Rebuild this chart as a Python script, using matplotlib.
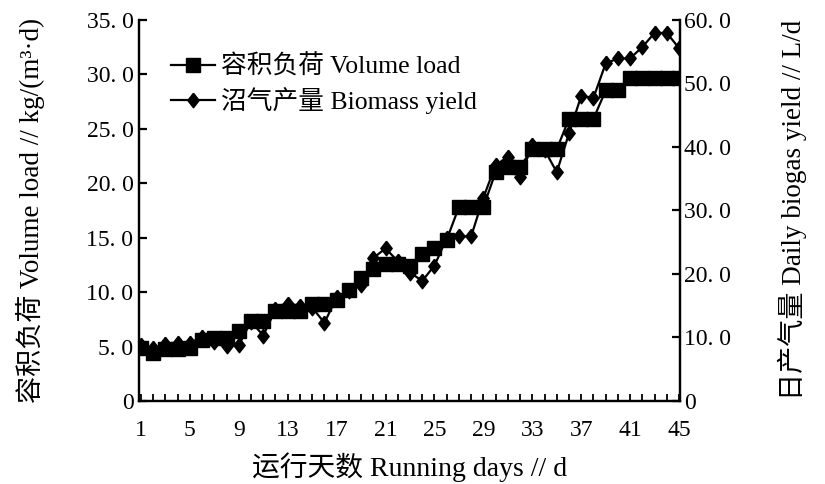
import matplotlib.pyplot as plt
from matplotlib.ticker import MultipleLocator, FixedLocator

# Данные
days = list(range(1, 46))
volume_load = [4.9, 4.4, 4.75, 4.75, 4.9, 5.6, 5.8, 5.8, 6.4, 7.3,
               7.3, 8.3, 8.3, 8.3, 8.9, 8.9, 9.3, 10.2, 11.3, 12.1,
               12.6, 12.6, 12.4, 13.5, 14.0, 14.8, 17.8, 17.8, 17.8, 21.0,
               21.5, 21.5, 23.1, 23.1, 23.1, 25.9, 25.9, 25.9, 28.5, 28.5,
               29.6, 29.6, 29.6, 29.6, 29.6]
biogas_yield = [8.8, 8.3, 9.0, 9.1, 9.1, 10.1, 9.3, 8.6, 8.8, 12.5,
                10.3, 14.4, 15.2, 15.0, 14.7, 12.3, 16.3, 17.3, 18.2, 22.5,
                24.0, 22.0, 20.2, 18.9, 21.3, 25.6, 25.9, 25.9, 32.0, 37.1,
                38.4, 35.2, 40.3, 39.5, 36.0, 42.1, 48.0, 47.7, 53.1, 53.9,
                53.9, 55.7, 57.9, 57.9, 55.5]

left_ticks = [0, 5, 10, 15, 20, 25, 30, 35]
left_labels = ["0", "5. 0", "10. 0", "15. 0", "20. 0", "25. 0", "30. 0", "35. 0"]
right_ticks = [0, 10, 20, 30, 40, 50, 60]
right_labels = ["0", "10. 0", "20. 0", "30. 0", "40. 0", "50. 0", "60. 0"]
x_ticks = list(range(1, 46, 4))

fam = ['Liberation Serif', 'Noto Sans CJK SC']
plt.rcParams['font.family'] = fam

fig = plt.figure(figsize=(8.25, 4.84), dpi=100)
ax = fig.add_axes([0.1685, 0.1715, 0.6555, 0.788])
ax2 = ax.twinx()

# ромб чуть уже, чем высота
diamond = [(0, 1), (0.78, 0), (0, -1), (-0.78, 0), (0, 1)]

l1, = ax.plot(days, volume_load, color='black', lw=1.6, marker='s',
              ms=10.5, label='容积负荷 Volume load')
l2, = ax2.plot(days, biogas_yield, color='black', lw=1.6, marker=diamond,
               ms=10.5, label='沼气产量 Biomass yield')

ax.set_xlim(0.84, 45.06)
ax.set_ylim(0, 35)
ax2.set_ylim(0, 60)

ax.xaxis.set_major_locator(FixedLocator(x_ticks))
ax.xaxis.set_minor_locator(MultipleLocator(1))
ax.set_xticklabels([str(t) for t in x_ticks])
ax.set_yticks(left_ticks)
ax.set_yticklabels(left_labels)
ax2.set_yticks(right_ticks)
ax2.set_yticklabels(right_labels)

for a in (ax, ax2):
    a.spines['top'].set_visible(False)
    for s in a.spines.values():
        s.set_linewidth(1.6)
ax.tick_params(axis='x', which='both', direction='in', length=5, width=1.3,
               labelsize=17, pad=14)
ax.tick_params(axis='y', direction='in', length=6, width=1.6, labelsize=17, pad=4)
ax2.tick_params(axis='y', direction='in', length=6, width=1.6, labelsize=17, pad=3)

ax.set_xlabel('运行天数 Running days // d', fontsize=20, labelpad=8)
ax.set_ylabel('容积负荷 Volume load // kg/(m³·d)', fontsize=19.5, labelpad=30)
ax2.set_ylabel('日产气量 Daily biogas yield // L/d', fontsize=19.5,
               rotation=90, labelpad=34)

ax.legend([l1, l2], [l1.get_label(), l2.get_label()], loc='upper left',
          bbox_to_anchor=(0.04, 0.936), frameon=False, fontsize=18.5,
          handlelength=1.7, handletextpad=0.25, labelspacing=0.31,
          borderaxespad=0)

fig.savefig('out.png', dpi=100)
